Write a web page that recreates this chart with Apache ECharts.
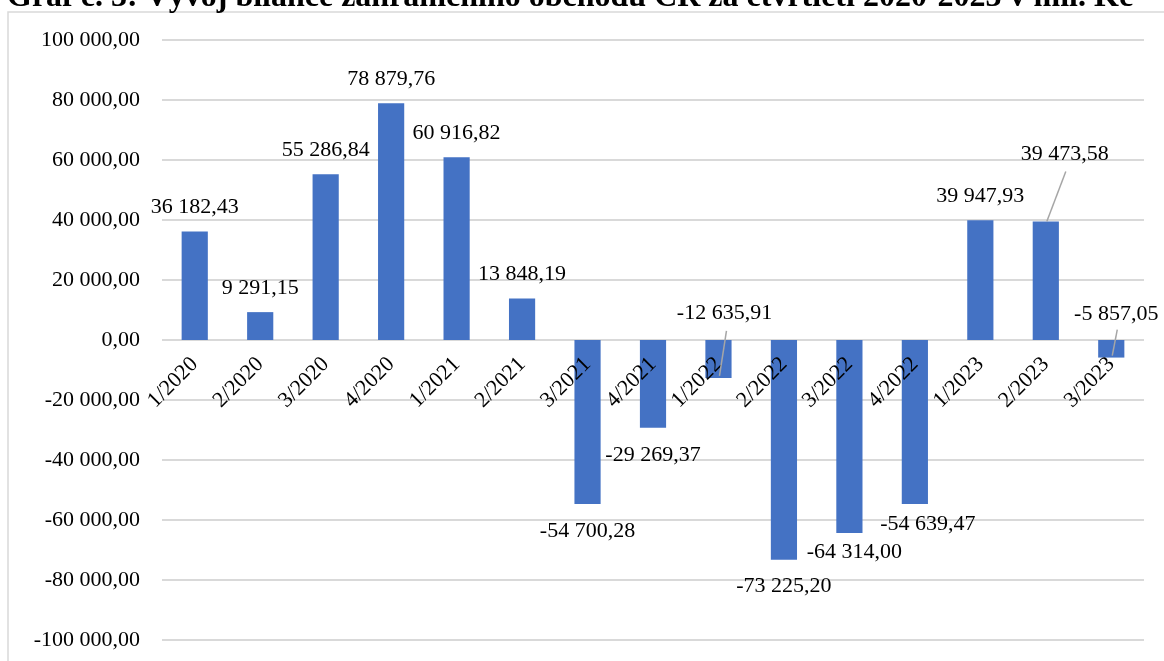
<!DOCTYPE html>
<html>
<head>
<meta charset="utf-8">
<script src="https://cdn.jsdelivr.net/npm/echarts@6/dist/echarts.min.js"></script>
<style>
  html, body { margin: 0; padding: 0; background: #ffffff; }
  #chart { width: 1164px; height: 661px; }
</style>
</head>
<body>
<div id="chart"></div>
<script>
// ---- data ----
const categories = ['1/2020','2/2020','3/2020','4/2020','1/2021','2/2021','3/2021','4/2021','1/2022','2/2022','3/2022','4/2022','1/2023','2/2023','3/2023'];
const balance = [36182.43, 9291.15, 55286.84, 78879.76, 60916.82, 13848.19, -54700.28, -29269.37, -12635.91, -73225.20, -64314.00, -54639.47, 39947.93, 39473.58, -5857.05];
const titleText = 'Graf č. 3: Vývoj bilance zahraničního obchodu ČR za čtvrtletí 2020-2023 v mil. Kč';
const yMin = -100000, yMax = 100000, yStep = 20000;

// ---- style (label nudges, leader lines) ----
const labelOffsets = { 8: [6, -92], 10: [5, -8], 11: [13, -7], 13: [19, -43], 14: [5, -70] };
const leaderFrom = { 8: [8, -47], 13: [20, -50], 14: [6, -28] };

function fmt(v) {
  const neg = v < 0;
  const s = Math.abs(v).toFixed(2);
  let [ip, dp] = s.split('.');
  ip = ip.replace(/\B(?=(\d{3})+(?!\d))/g, ' ');
  return (neg ? '-' : '') + ip + ',' + dp;
}

const FONT = '"Liberation Serif", "Times New Roman", serif';
const GRID_TOP = 40, GRID_BOTTOM = 21, H = 661;
const chart = echarts.init(document.getElementById('chart'), null, { renderer: 'canvas' });

const seriesData = balance.map((v, i) => {
  const item = { value: v, label: { position: v >= 0 ? 'top' : 'bottom', distance: v >= 0 ? 13 : 16 } };
  if (labelOffsets[i]) item.label.offset = labelOffsets[i];
  return item;
});

// x axis sits on the zero line: offset it up by the distance from grid bottom to value 0
const gridH = H - GRID_TOP - GRID_BOTTOM;
const zeroOffset = -gridH * (0 - yMin) / (yMax - yMin);

chart.setOption({
  animation: false,
  backgroundColor: '#ffffff',
  title: {
    text: titleText,
    left: 2,
    top: -23,
    textStyle: { fontFamily: FONT, fontWeight: 'bold', fontSize: 32, color: '#000000' }
  },
  grid: { left: 162, right: 20, top: GRID_TOP, bottom: GRID_BOTTOM, containLabel: false, outerBoundsMode: 'none' },
  xAxis: {
    type: 'category',
    data: categories,
    position: 'bottom',
    offset: zeroOffset,
    z: 10,
    axisLine: { show: false, onZero: false },
    axisTick: { show: false },
    axisLabel: { rotate: 45, margin: 21, fontFamily: FONT, fontSize: 22, color: '#000000', interval: 0 }
  },
  yAxis: {
    type: 'value',
    min: yMin, max: yMax, interval: yStep,
    axisLine: { show: false },
    axisTick: { show: false },
    splitLine: { lineStyle: { color: '#d9d9d9', width: 2 } },
    axisLabel: { margin: 22, fontFamily: FONT, fontSize: 22, color: '#000000', formatter: fmt }
  },
  series: [{
    type: 'bar',
    data: seriesData,
    barWidth: '40%',
    itemStyle: { color: '#4472C4' },
    label: { show: true, fontFamily: FONT, fontSize: 22, color: '#000000', formatter: p => fmt(p.value) }
  }],
  graphic: []
});

// border + leader lines computed from scales
const graphics = [{
  type: 'rect', shape: { x: 8, y: 12, width: 1300, height: 800 },
  style: { fill: 'none', stroke: '#d9d9d9', lineWidth: 1.5 }, silent: true, z: -1
}];
Object.keys(leaderFrom).forEach(k => {
  const i = +k;
  const end = chart.convertToPixel({ xAxisIndex: 0, yAxisIndex: 0 }, [i, balance[i]]);
  const d = leaderFrom[k];
  graphics.push({
    type: 'line',
    shape: { x1: end[0] + d[0], y1: end[1] + d[1], x2: end[0] + 1, y2: end[1] + (balance[i] < 0 ? -2 : 0) },
    style: { stroke: '#a6a6a6', lineWidth: 1.5 },
    silent: true, z: 100
  });
});
chart.setOption({ graphic: graphics });
</script>
</body>
</html>
